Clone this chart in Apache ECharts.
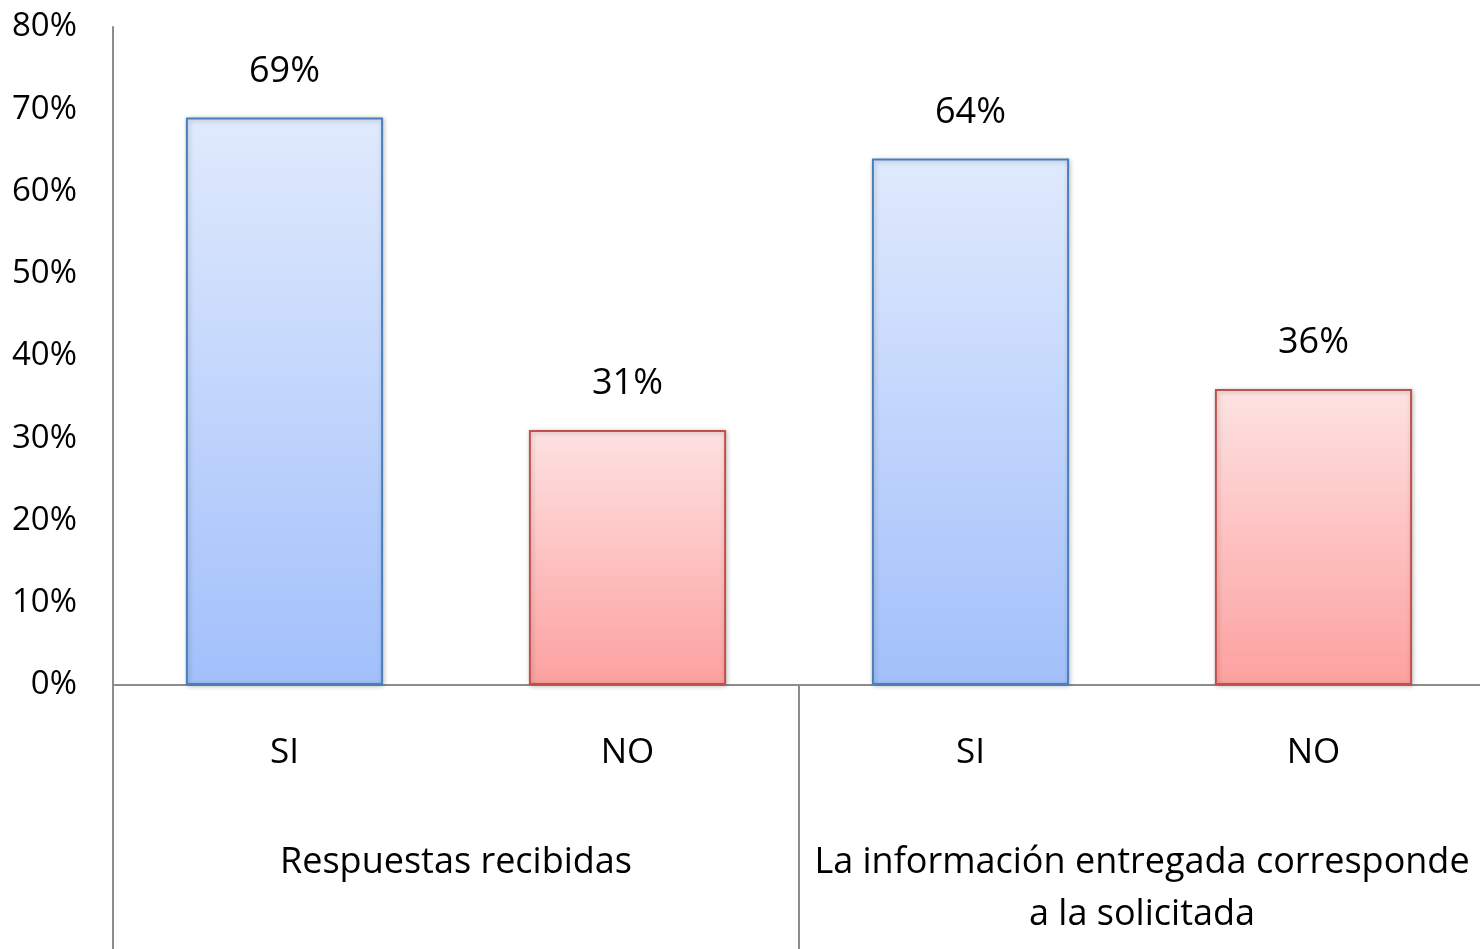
<!DOCTYPE html>
<html><head><meta charset="utf-8">
<script src="https://cdn.jsdelivr.net/npm/echarts@6/dist/echarts.min.js"></script>
<style>html,body{margin:0;padding:0;background:#fff}#c{width:1480px;height:949px}</style>
</head><body><div id="c"></div>
<script>
const categories = ['SI', 'NO', 'SI', 'NO'];
const groups = ['Respuestas recibidas', 'La información entregada corresponde\na la solicitada'];
const values = [0.69, 0.31, 0.64, 0.36];
const yTicks = [0, 0.1, 0.2, 0.3, 0.4, 0.5, 0.6, 0.7, 0.8];

const FONT = '"Open Sans", sans-serif';
const blue = {fill: new echarts.graphic.LinearGradient(0,0,0,1,[{offset:0,color:'#e0eafd'},{offset:1,color:'#a2c0fb'}]), border:'#4a7ebb'};
const red = {fill: new echarts.graphic.LinearGradient(0,0,0,1,[{offset:0,color:'#fee2e2'},{offset:1,color:'#fca1a0'}]), border:'#c0504d'};

const chart = echarts.init(document.getElementById('c'));
chart.setOption({
  animation: false,
  grid: {left: 113, width: 1372, top: 27, bottom: 264, containLabel: false, outerBoundsMode: 'none'},
  xAxis: [
    {type: 'category', data: categories, position: 'bottom',
     axisLine: {show: true, lineStyle: {color: '#8c8c8c', width: 2}},
     axisTick: {show: false},
     axisLabel: {margin: 51, fontSize: 35, color: '#000', fontFamily: FONT, interval: 0}},
    {type: 'category', data: groups, position: 'bottom',
     axisLine: {show: false},
     axisTick: {show: true, length: 264, alignWithLabel: false, interval: 0, lineStyle: {color: '#8c8c8c', width: 2}},
     axisLabel: {margin: 152, fontSize: 36, lineHeight: 52, color: '#000', fontFamily: FONT, interval: 0, align: 'center'}}
  ],
  yAxis: {type: 'value', min: yTicks[0], max: yTicks[yTicks.length - 1], interval: 0.1,
    axisLine: {show: true, lineStyle: {color: '#8c8c8c', width: 2}},
    axisTick: {show: false},
    splitLine: {show: false},
    axisLabel: {margin: 36, fontSize: 33, color: '#000', fontFamily: FONT, padding: [6, 0, 0, 0],
      formatter: v => Math.round(v * 100) + '%'}},
  series: [{
    type: 'bar', xAxisIndex: 0, barWidth: '57.5%',
    data: values.map((v, i) => {
      const s = categories[i] === 'SI' ? blue : red;
      return {value: v, itemStyle: {color: s.fill, borderColor: s.border, borderWidth: 2,
        shadowBlur: 5, shadowColor: 'rgba(0,0,0,0.25)', shadowOffsetX: 1, shadowOffsetY: 1}};
    }),
    label: {show: true, position: 'top', distance: 28, fontSize: 36, color: '#000', fontFamily: FONT,
      formatter: p => Math.round(p.value * 100) + '%'}
  }]
});
</script></body></html>
